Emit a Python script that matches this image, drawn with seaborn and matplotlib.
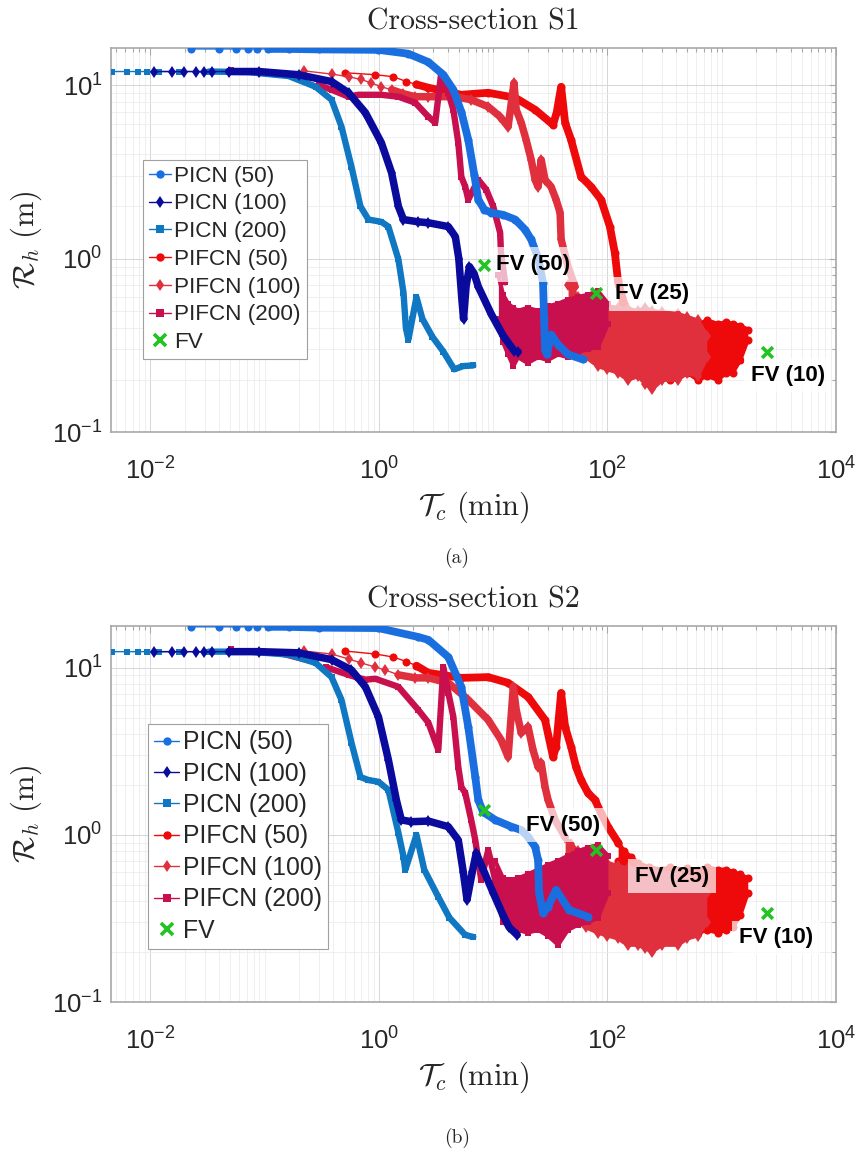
import matplotlib
matplotlib.use('Agg')
import matplotlib.pyplot as plt
import seaborn as sns
from matplotlib.lines import Line2D
from matplotlib.ticker import FixedLocator, NullFormatter, LogFormatterSciNotation

# ---------------- Cross-section S1 ----------------
s1_picn50_x = [0.0226, 0.0396, 0.0558, 0.0711, 0.0852, 0.108, 0.162, 0.296, 0.99, 1.81, 2.71, 3.66,
               4.48, 5.26, 6.05, 6.83, 7.40, 8.35, 9.6, 12.2, 15.6, 19.0, 21.5, 24.7, 27.3, 27.9,
               28.4, 29.6, 32.1, 37.0, 45.2, 61.1]
s1_picn50_y = [16.2, 16.2, 16.2, 16.2, 16.2, 16.2, 16.2, 16.1, 16.0, 15.2, 13.6, 11.5,
               9.42, 7.03, 4.85, 3.05, 2.19, 1.92, 1.84, 1.79, 1.68, 1.47, 1.29, 1.01, 0.727, 0.445,
               0.299, 0.280, 0.365, 0.319, 0.28, 0.262]
s1_picn100_x = [0.0107, 0.0154, 0.0196, 0.0250, 0.0293, 0.0344, 0.0485, 0.0887, 0.198, 0.385, 0.542,
                0.762, 1.05, 1.29, 1.48, 1.64, 2.21, 2.71, 4.05, 4.66, 5.0, 5.3, 5.5, 5.8, 6.2, 6.8,
                7.4, 9.6, 12.2, 15.2, 16.5]
s1_picn100_y = [12.0, 12.0, 12.0, 12.0, 12.0, 12.0, 12.0, 12.0, 11.5, 10.5, 9.05,
                6.94, 4.66, 3.13, 2.0, 1.68, 1.63, 1.61, 1.53, 1.34, 1.0, 0.6, 0.45, 0.7, 0.9, 0.82,
                0.69, 0.48, 0.36, 0.295, 0.29]
s1_picn200_x = [0.0046, 0.00623, 0.00778, 0.0093, 0.0119, 0.0177, 0.0324, 0.0725, 0.162, 0.279, 0.385,
                0.470, 0.575, 0.689, 0.81, 1.05, 1.21, 1.48, 1.64, 1.72, 1.81, 1.96, 2.13, 2.40, 2.93,
                3.66, 4.56, 5.47, 6.69]
s1_picn200_y = [12.0, 12.0, 12.0, 12.0, 12.0, 12.0, 12.0, 11.9, 11.3, 9.8, 8.25,
                5.77, 3.39, 2.0, 1.68, 1.63, 1.53, 0.99, 0.637, 0.4, 0.341, 0.45, 0.60, 0.45, 0.355,
                0.291, 0.23, 0.24, 0.242]
s1_pifcn50_x = [0.509, 0.931, 1.34, 1.74, 2.13, 2.71, 5.26, 9.04, 15.6, 23.3, 33.4, 36.0, 39.3, 42.6,
                48.0, 58.7, 71.8, 87.8, 105, 116, 124, 140]
s1_pifcn50_y = [11.8, 11.5, 11.2, 10.5, 10.1, 9.68, 8.81, 9.05, 8.47, 7.22, 5.92, 7.0, 9.8, 6.08,
                4.85, 2.97, 2.6, 2.19, 1.53, 1.08, 0.73, 0.55]
s1_pifcn100_x = [0.223, 0.385, 0.542, 0.70, 0.859, 1.05, 1.29, 1.64, 2.08, 2.71, 4.66, 6.42, 9.04, 11.5,
                 13.5, 15.2, 15.9, 17.6, 19.4, 21.5, 23.3, 24.7, 26.3, 28.4, 32.1, 35.5, 38.5, 39.3,
                 45.2, 52.0]
s1_pifcn100_y = [12.1, 11.6, 11.2, 10.8, 10.3, 9.8, 9.42, 8.93, 8.59, 8.59, 8.59, 8.25, 7.52, 6.58,
                 5.77, 10.3, 7.22, 6.08, 4.85, 3.72, 2.85, 2.60, 3.72, 2.85, 2.60, 2.19, 1.84, 1.29,
                 0.90, 0.69]
s1_pifcn200_x = [0.0505, 0.094, 0.198, 0.30, 0.385, 0.542, 0.662, 1.05, 1.48, 2.08, 2.71, 3.11, 3.51,
                 4.05, 4.48, 4.95, 5.26, 5.69, 6.05, 7.4, 8.69, 10.0, 11.5, 11.7, 12.7]
s1_pifcn200_y = [12.3, 12.0, 11.0, 10.0, 9.42, 8.59, 8.81, 8.81, 8.59, 7.93, 6.58, 6.08, 11.8,
                 9.05, 7.22, 4.66, 2.97, 2.60, 2.19, 2.85, 2.50, 2.0, 1.41, 1.08, 0.73]
# oscillating tails (envelopes)
s1_pifcn50_tail_x = [124, 140, 160, 185, 230, 300, 350, 413, 500, 617, 750, 923, 1100, 1250, 1450, 1690]
s1_pifcn50_tail_lo = [0.5, 0.32, 0.27, 0.25, 0.23, 0.22, 0.2, 0.21, 0.22, 0.2, 0.21, 0.2, 0.22, 0.22, 0.26, 0.34]
s1_pifcn50_tail_hi = [0.75, 0.55, 0.5, 0.45, 0.43, 0.42, 0.44, 0.42, 0.43, 0.42, 0.44, 0.42, 0.43, 0.42, 0.41, 0.39]
s1_pifcn100_tail_x = [45.2, 50, 55.2, 65, 82.6, 100, 124, 150, 185, 215, 245, 300, 413, 500, 617, 739]
s1_pifcn100_tail_lo = [0.45, 0.36, 0.3, 0.27, 0.24, 0.23, 0.22, 0.2, 0.21, 0.19, 0.176, 0.2, 0.2, 0.22, 0.21, 0.27]
s1_pifcn100_tail_hi = [0.7, 0.64, 0.6, 0.58, 0.55, 0.53, 0.52, 0.51, 0.5, 0.52, 0.5, 0.49, 0.48, 0.46, 0.44, 0.36]
s1_pifcn200_tail_x = [11.1, 12.2, 13.5, 15.0, 16.5, 20.0, 24.7, 30.0, 37.0, 45.0, 55.2, 68.0, 82.6, 101]
s1_pifcn200_tail_lo = [0.45, 0.33, 0.28, 0.24, 0.27, 0.25, 0.27, 0.26, 0.28, 0.27, 0.29, 0.3, 0.31, 0.42]
s1_pifcn200_tail_hi = [0.80, 0.62, 0.55, 0.52, 0.5, 0.52, 0.5, 0.53, 0.55, 0.58, 0.6, 0.62, 0.65, 0.55]
s1_fv_x = [8.35, 79.4, 2480]
s1_fv_y = [0.923, 0.637, 0.291]

# ---------------- Cross-section S2 ----------------
s2_picn50_x = [0.0226, 0.0396, 0.0558, 0.0711, 0.0852, 0.108, 0.162, 0.296, 0.99, 2.21, 2.71, 4.05,
               5.26, 6.05, 6.97, 7.40, 8.18, 10.4, 14.4, 17.6, 20.2, 23.3, 24.7, 25.2, 27.3, 30.0,
               35.5, 46.1, 67.6]
s2_picn50_y = [17.6, 17.6, 17.6, 17.6, 17.6, 17.6, 17.6, 17.4, 17.3, 15.3, 14.7, 11.6,
               7.69, 4.43, 2.22, 1.62, 1.37, 1.23, 1.12, 1.07, 0.973, 0.848, 0.708, 0.45, 0.341, 0.37,
               0.469, 0.356, 0.323]
s2_picn100_x = [0.0107, 0.0154, 0.0196, 0.0250, 0.0293, 0.0344, 0.0485, 0.0887, 0.198, 0.385, 0.575,
                0.762, 0.99, 1.21, 1.42, 1.57, 1.92, 2.71, 4.05, 4.95, 5.47, 5.9, 6.56, 7.11, 8.18,
                10.0, 12.2, 13.8, 16.2]
s2_picn100_y = [12.5, 12.5, 12.5, 12.5, 12.5, 12.5, 12.5, 12.5, 12.3, 11.2, 9.7,
                7.69, 5.09, 2.81, 1.62, 1.23, 1.20, 1.21, 1.12, 0.93, 0.6, 0.41, 0.6, 0.78, 0.62,
                0.45, 0.33, 0.28, 0.252]
s2_picn200_x = [0.0046, 0.00623, 0.00778, 0.0093, 0.0119, 0.0177, 0.0324, 0.0725, 0.162, 0.279, 0.385,
                0.470, 0.575, 0.689, 0.81, 0.99, 1.21, 1.48, 1.64, 1.70, 2.13, 2.49, 3.31, 4.13, 5.69,
                6.69]
s2_picn200_y = [12.5, 12.5, 12.5, 12.5, 12.5, 12.5, 12.5, 12.5, 12.0, 10.7, 8.8,
                6.43, 3.56, 2.22, 2.13, 2.08, 1.86, 1.03, 0.74, 0.617, 1.0, 0.62, 0.425, 0.32, 0.252,
                0.245]
s2_pifcn50_x = [0.509, 0.931, 1.34, 1.74, 2.13, 2.71, 5.26, 9.04, 13.5, 20.2, 28.4, 33.4, 35.5, 39.3,
                42.6, 48.0, 53.1, 58.7, 67.6, 77.8, 87.8, 101, 124]
s2_pifcn50_y = [12.6, 12.1, 11.6, 10.9, 10.3, 9.33, 8.71, 8.8, 8.13, 6.7, 4.88, 2.93, 3.37, 7.08,
                4.43, 3.37, 2.55, 2.13, 1.78, 1.62, 1.35, 1.12, 0.9]
s2_pifcn100_x = [0.223, 0.385, 0.542, 0.70, 0.931, 1.14, 1.48, 2.08, 2.71, 4.05, 6.05, 9.04, 11.7,
                 13.5, 15.0, 15.9, 17.6, 20.2, 22.3, 24.7, 26.3, 28.4, 30.2, 34.8, 42.6]
s2_pifcn100_y = [12.6, 12.1, 11.3, 10.7, 10.1, 9.7, 9.08, 8.71, 8.71, 8.13, 6.43, 4.88, 3.71,
                 2.93, 7.69, 5.6, 4.08, 4.43, 3.23, 2.55, 2.7, 1.94, 1.62, 1.23, 0.97]
s2_pifcn200_x = [0.0505, 0.094, 0.341, 0.542, 0.662, 0.762, 0.931, 1.48, 2.21, 2.71, 3.31, 3.66, 4.05,
                 4.48, 4.95, 5.26, 5.69, 6.42, 6.97, 7.85, 9.04, 10.4, 12.2]
s2_pifcn200_y = [13.0, 12.6, 10.1, 9.08, 8.71, 8.5, 8.6, 7.7, 5.6, 4.69, 3.23, 10.1, 7.08,
                 5.09, 2.55, 1.94, 1.78, 1.23, 0.93, 0.54, 0.81, 0.54, 0.356]
s2_pifcn50_tail_x = [124, 140, 160, 185, 230, 300, 350, 413, 500, 617, 750, 923, 1100, 1250, 1450, 1690]
s2_pifcn50_tail_lo = [0.7, 0.45, 0.36, 0.32, 0.3, 0.28, 0.27, 0.26, 0.27, 0.26, 0.27, 0.26, 0.27, 0.28, 0.33, 0.45]
s2_pifcn50_tail_hi = [0.9, 0.8, 0.74, 0.68, 0.64, 0.62, 0.64, 0.62, 0.63, 0.62, 0.64, 0.62, 0.62, 0.6, 0.58, 0.55]
s2_pifcn100_tail_x = [42.6, 48, 55.2, 65, 82.6, 100, 124, 150, 185, 215, 245, 300, 413, 500, 617, 739]
s2_pifcn100_tail_lo = [0.5, 0.38, 0.3, 0.28, 0.26, 0.25, 0.24, 0.22, 0.22, 0.21, 0.2, 0.22, 0.22, 0.24, 0.25, 0.3]
s2_pifcn100_tail_hi = [0.97, 0.88, 0.8, 0.74, 0.7, 0.68, 0.65, 0.63, 0.62, 0.61, 0.6, 0.6, 0.58, 0.55, 0.52, 0.45]
s2_pifcn200_tail_x = [10.4, 12.2, 14.0, 16.5, 20.0, 24.7, 30.0, 37.0, 45.0, 55.2, 68.0, 82.6, 101]
s2_pifcn200_tail_lo = [0.45, 0.3, 0.28, 0.27, 0.26, 0.27, 0.25, 0.22, 0.27, 0.29, 0.3, 0.32, 0.45]
s2_pifcn200_tail_hi = [0.7, 0.55, 0.54, 0.55, 0.58, 0.62, 0.66, 0.7, 0.75, 0.8, 0.84, 0.87, 0.75]
s2_fv_x = [8.35, 79.4, 2480]
s2_fv_y = [1.41, 0.813, 0.341]

fv_labels = ['FV (50)', 'FV (25)', 'FV (10)']
series_names = ['PICN (50)', 'PICN (100)', 'PICN (200)', 'PIFCN (50)', 'PIFCN (100)', 'PIFCN (200)', 'FV']

# ---------------- styles ----------------
colors = {'PICN (50)': '#1a6fe0', 'PICN (100)': '#0a0a9c', 'PICN (200)': '#1077c2',
          'PIFCN (50)': '#ee0a0a', 'PIFCN (100)': '#e0303e', 'PIFCN (200)': '#c8104e', 'FV': '#22c322'}
markers = {'PICN (50)': 'o', 'PICN (100)': 'd', 'PICN (200)': 's',
           'PIFCN (50)': 'o', 'PIFCN (100)': 'd', 'PIFCN (200)': 's'}
msizes = {'o': 5.8, 'd': 6.0, 's': 4.4}
band = {'o': 5.6, 'd': 5.4, 's': 4.6}
dense_from = {'PICN (50)': 0.1, 'PICN (100)': 0.04, 'PICN (200)': 0.02,
              'PIFCN (50)': 2.0, 'PIFCN (100)': 1.2, 'PIFCN (200)': 0.3}

sns.set_style('white')
plt.rcParams['font.family'] = ['Liberation Sans', 'DejaVu Sans']
plt.rcParams['mathtext.fontset'] = 'custom'
plt.rcParams['mathtext.rm'] = 'Liberation Sans'
plt.rcParams['mathtext.it'] = 'Liberation Sans:italic'
plt.rcParams['mathtext.bf'] = 'Liberation Sans:bold'

fig = plt.figure(figsize=(8.6, 11.53), dpi=100)
W, H = 860, 1153


def draw_line(ax, name, xs, ys, z):
    c, m = colors[name], markers[name]
    sns.lineplot(x=xs, y=ys, ax=ax, color=c, lw=1.0, marker=m, markersize=msizes[m],
                 markeredgewidth=0, sort=False, estimator=None, legend=False, zorder=z)
    dx = [x for x in xs if x >= dense_from[name]]
    dy = ys[len(xs) - len(dx):]
    sns.lineplot(x=dx, y=dy, ax=ax, color=c, lw=band[m], sort=False, estimator=None,
                 legend=False, zorder=z, solid_capstyle='round', solid_joinstyle='round')


def draw_tail(ax, name, tx, lo, hi, z):
    c, m = colors[name], markers[name]
    ax.fill_between(tx, lo, hi, color=c, lw=0, zorder=z)
    for edge in (lo, hi):
        sns.lineplot(x=tx, y=edge, ax=ax, color=c, lw=3, marker=m, markersize=msizes[m],
                     markeredgewidth=0, sort=False, estimator=None, legend=False, zorder=z)


def panel(box, title, caption, lines, tails, fv_x, fv_y, offsets, ytop, leg_xy, leg_fs):
    l, t, r, b = box
    ax = fig.add_axes([l / W, 1 - b / H, (r - l) / W, (b - t) / H])
    ax.set_xscale('log')
    ax.set_yscale('log')
    ax.set_axisbelow(True)

    # PIFCN family first (drawn underneath), then PICN
    z = 2
    for name in ['PIFCN (50)', 'PIFCN (100)', 'PIFCN (200)']:
        tx, lo, hi = tails[name]
        draw_tail(ax, name, tx, lo, hi, z)
        xs, ys = lines[name]
        draw_line(ax, name, xs, ys, z)
        z += 1
    for name in ['PICN (200)', 'PICN (100)', 'PICN (50)']:
        xs, ys = lines[name]
        draw_line(ax, name, xs, ys, z)
        z += 1

    sns.scatterplot(x=fv_x, y=fv_y, ax=ax, marker='x', s=60, color=colors['FV'],
                    linewidth=2.6, zorder=12, legend=False)
    for fx, fy, lab, (ox, oy, ha) in zip(fv_x, fv_y, fv_labels, offsets):
        ax.annotate(lab, xy=(fx, fy), xytext=(ox, oy), textcoords='offset points', ha=ha,
                    va='center', fontsize=16, fontweight='bold', color='black', zorder=11,
                    bbox=dict(boxstyle='square,pad=0.3', fc='white', ec='none', alpha=0.7))

    ax.set_xlim(0.00452, 1e4)
    ax.set_ylim(0.1, ytop)
    ax.xaxis.set_major_locator(FixedLocator([1e-2, 1, 1e2, 1e4]))
    ax.xaxis.set_minor_locator(FixedLocator([k * 10.0 ** e for e in range(-3, 4) for k in range(1, 10)
                                             if not (k == 1 and e % 2 == 0)]))
    ax.yaxis.set_major_locator(FixedLocator([0.1, 1, 10]))
    ax.yaxis.set_minor_locator(FixedLocator([k * 10.0 ** e for e in range(-1, 2) for k in range(2, 10)]))
    ax.xaxis.set_major_formatter(LogFormatterSciNotation())
    ax.yaxis.set_major_formatter(LogFormatterSciNotation())
    ax.xaxis.set_minor_formatter(NullFormatter())
    ax.yaxis.set_minor_formatter(NullFormatter())
    ax.grid(True, which='major', color='#d6d6d6', lw=0.7)
    ax.grid(True, which='minor', color='#ececec', lw=0.6)
    ax.tick_params(which='both', direction='in', top=True, right=True, color='#a8a8a8',
                   labelcolor='#262626', labelsize=18.5, width=0.8)
    ax.tick_params(which='major', length=5)
    ax.tick_params(which='minor', length=3)
    ax.tick_params(axis='x', which='major', pad=18)
    ax.tick_params(axis='y', which='major', pad=6)
    for s in ax.spines.values():
        s.set_color('#a8a8a8')
        s.set_linewidth(1.2)

    ax.set_xlabel(r'$\mathcal{T}_c\ (\mathrm{min})$', fontsize=22, math_fontfamily='cm', labelpad=4)
    ax.set_ylabel(r'$\mathcal{R}_h\ (\mathrm{m})$', fontsize=22, math_fontfamily='cm', labelpad=6)

    fig.text((l + r) / 2 / W, 1 - (t - 26) / H, title, ha='center', va='center',
             fontsize=21.5, family='cmr10')
    fig.text(457 / W, 1 - caption / H, caption_text[title], ha='center', va='center',
             fontsize=14, family='cmr10')

    handles = [Line2D([], [], color=colors[n], marker=markers[n], lw=1.0, markersize=6,
                      markeredgewidth=0) for n in series_names[:6]]
    handles.append(Line2D([], [], color=colors['FV'], marker='x', lw=0, markersize=8,
                          markeredgewidth=2.6))
    leg = ax.legend(handles, series_names, loc='upper left', bbox_to_anchor=(leg_xy[0] / W, 1 - leg_xy[1] / H),
                    bbox_transform=fig.transFigure, fontsize=leg_fs, frameon=True, fancybox=False,
                    framealpha=1, edgecolor='#a0a0a0', borderaxespad=0, borderpad=0.25,
                    handlelength=1.0, handletextpad=0.15, labelspacing=0.3)
    leg.get_frame().set_linewidth(0.8)
    leg.set_zorder(20)
    return ax


caption_text = {'Cross-section S1': '(a)', 'Cross-section S2': '(b)'}

panel((111, 48, 836, 432), 'Cross-section S1', 558,
      {'PICN (50)': (s1_picn50_x, s1_picn50_y), 'PICN (100)': (s1_picn100_x, s1_picn100_y),
       'PICN (200)': (s1_picn200_x, s1_picn200_y), 'PIFCN (50)': (s1_pifcn50_x, s1_pifcn50_y),
       'PIFCN (100)': (s1_pifcn100_x, s1_pifcn100_y), 'PIFCN (200)': (s1_pifcn200_x, s1_pifcn200_y)},
      {'PIFCN (50)': (s1_pifcn50_tail_x, s1_pifcn50_tail_lo, s1_pifcn50_tail_hi),
       'PIFCN (100)': (s1_pifcn100_tail_x, s1_pifcn100_tail_lo, s1_pifcn100_tail_hi),
       'PIFCN (200)': (s1_pifcn200_tail_x, s1_pifcn200_tail_lo, s1_pifcn200_tail_hi)},
      s1_fv_x, s1_fv_y, [(8.6, 0, 'left'), (14, -1, 'left'), (15, -17, 'center')],
      16.4, (143, 160), 16.2)

panel((111, 626, 836, 1002), 'Cross-section S2', 1138,
      {'PICN (50)': (s2_picn50_x, s2_picn50_y), 'PICN (100)': (s2_picn100_x, s2_picn100_y),
       'PICN (200)': (s2_picn200_x, s2_picn200_y), 'PIFCN (50)': (s2_pifcn50_x, s2_pifcn50_y),
       'PIFCN (100)': (s2_pifcn100_x, s2_pifcn100_y), 'PIFCN (200)': (s2_pifcn200_x, s2_pifcn200_y)},
      {'PIFCN (50)': (s2_pifcn50_tail_x, s2_pifcn50_tail_lo, s2_pifcn50_tail_hi),
       'PIFCN (100)': (s2_pifcn100_tail_x, s2_pifcn100_tail_lo, s2_pifcn100_tail_hi),
       'PIFCN (200)': (s2_pifcn200_tail_x, s2_pifcn200_tail_lo, s2_pifcn200_tail_hi)},
      s2_fv_x, s2_fv_y, [(30, -11, 'left'), (28, -19, 'left'), (6.5, -18, 'center')],
      17.8, (148, 724), 17.8)

fig.savefig('out.png', dpi=100)
